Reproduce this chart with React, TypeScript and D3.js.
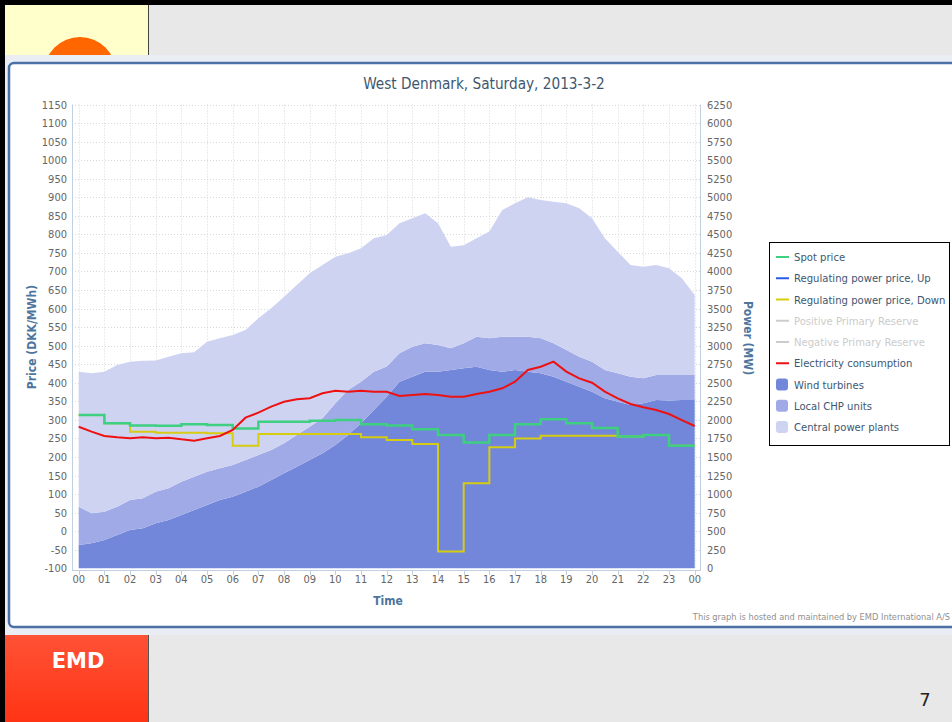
import React, { useEffect, useRef } from 'react';
import * as d3 from 'd3';

// half-hourly sample times, 00:00 .. 24:00
const hours = d3.range(0, 24.01, 0.5);

// production (MW), stacked: wind at the bottom
const windTurbines = [
  314, 337, 381, 449, 516, 539, 606, 651, 718, 786, 853, 920, 965, 1032, 1100, 1190,
  1280, 1369, 1460, 1550, 1662, 1796, 1954, 2133, 2313, 2515, 2582, 2650, 2650, 2672,
  2695, 2717, 2672, 2650, 2672, 2650, 2628, 2582, 2515, 2448, 2380, 2291, 2245, 2200,
  2224, 2268, 2260, 2268, 2268
];
const localChp = [
  516, 404, 382, 381, 404, 404, 426, 427, 449, 449, 449, 428, 427, 428, 427, 404,
  405, 427, 448, 472, 562, 607, 561, 517, 407, 382, 405, 382, 359, 293,
  337, 404, 428, 471, 449, 471, 472, 450, 427, 404, 405, 381, 383, 382,
  336, 337, 345, 337, 337
];
const centralPlants = [
  1820, 1887, 1887, 1910, 1865, 1855, 1768, 1774, 1730, 1676, 1752, 1752, 1752, 1752, 1842, 1910,
  1975, 2022, 2068, 2066, 1976, 1842, 1798, 1797, 1770, 1753, 1730, 1752, 1641, 1369,
  1322, 1326, 1437, 1708, 1798, 1879, 1864, 1909, 1977, 2000, 1932, 1775, 1639, 1506,
  1505, 1483, 1438, 1303, 1078
];
const consumption = [
  1908, 1841, 1783, 1765, 1752, 1765, 1752, 1760, 1738, 1720, 1752, 1783, 1864, 2030, 2097, 2178,
  2245, 2277, 2291, 2358, 2394, 2380, 2394, 2380, 2380, 2322, 2335, 2349, 2335, 2313,
  2313, 2349, 2380, 2426, 2515, 2672, 2717, 2785, 2650, 2560, 2501, 2380, 2291, 2214,
  2170, 2133, 2079, 1998, 1918
];

// prices (DKK/MWh), one value per hour 00..23
const spotPrice = [313, 291, 285, 284, 288, 286, 277, 295, 295, 298, 300, 288, 285, 275, 259, 239, 259, 288, 302, 291, 278, 255, 259, 230];
const regPriceDown = [313, 291, 268, 265, 265, 264, 230, 262, 262, 262, 262, 253, 246, 235, -55, 129, 226, 250, 257, 257, 257, 255, 259, 230];

const hourLabels = ['00', '01', '02', '03', '04', '05', '06', '07', '08', '09', '10', '11', '12', '13', '14', '15', '16', '17', '18', '19', '20', '21', '22', '23', '00'];
const legendNames = [
  'Spot price', 'Regulating power price, Up', 'Regulating power price, Down',
  'Positive Primary Reserve', 'Negative Primary Reserve', 'Electricity consumption',
  'Wind turbines', 'Local CHP units', 'Central power plants'
];

const FONT = '"DejaVu Sans Condensed", "DejaVu Sans", sans-serif';

const App = () => {
  const svgRef = useRef(null);

  useEffect(() => {
    const svg = d3.select(svgRef.current);
    svg.selectAll('*').remove();

    const W = 952, H = 722;
    svg.attr('width', W).attr('height', H);

    // ---- slide background ----
    svg.append('rect').attr('width', W).attr('height', H).attr('fill', '#e8e8e8');
    svg.append('rect').attr('x', 5).attr('y', 5).attr('width', 143).attr('height', 50).attr('fill', '#ffffcc');
    svg.append('circle').attr('cx', 80).attr('cy', 73).attr('r', 36).attr('fill', '#ff6600');
    svg.append('line').attr('x1', 148.5).attr('x2', 148.5).attr('y1', 5).attr('y2', 55).attr('stroke', '#444');
    svg.append('rect').attr('width', W).attr('height', 5).attr('fill', '#000');
    svg.append('rect').attr('width', 5).attr('height', H).attr('fill', '#000');

    const defs = svg.append('defs');
    const grad = defs.append('linearGradient').attr('id', 'emdGrad').attr('x1', 0).attr('x2', 0).attr('y1', 0).attr('y2', 1);
    grad.append('stop').attr('offset', '0%').attr('stop-color', '#ff5236');
    grad.append('stop').attr('offset', '100%').attr('stop-color', '#ff3414');
    svg.append('rect').attr('x', 5).attr('y', 635).attr('width', 143).attr('height', 87).attr('fill', 'url(#emdGrad)');
    svg.append('line').attr('x1', 148.5).attr('x2', 148.5).attr('y1', 635).attr('y2', H).attr('stroke', '#555');
    svg.append('text').attr('x', 78).attr('y', 668).attr('text-anchor', 'middle')
      .attr('font-family', 'Verdana, "DejaVu Sans", sans-serif').attr('font-weight', 'bold')
      .attr('font-size', 21).attr('fill', '#fff').text('EMD');
    svg.append('text').attr('x', 925).attr('y', 706).attr('text-anchor', 'middle')
      .attr('font-family', '"DejaVu Sans", sans-serif').attr('font-size', 18).attr('fill', '#222').text('7');

    // ---- chart frame ----
    svg.append('rect').attr('x', 5).attr('y', 55).attr('width', W).attr('height', 580).attr('fill', '#eaedf4');
    svg.append('rect').attr('x', 9).attr('y', 63).attr('width', 960).attr('height', 564).attr('rx', 5)
      .attr('fill', '#fff').attr('stroke', '#4a70a6').attr('stroke-width', 2.5);

    svg.append('text').attr('x', 484).attr('y', 89).attr('text-anchor', 'middle')
      .attr('font-family', FONT).attr('font-size', 15.2).attr('fill', '#3e576f')
      .text('West Denmark, Saturday, 2013-3-2');

    // ---- scales ----
    const x = d3.scaleLinear().domain([0, 24]).range([78.7, 694.7]);
    const yL = d3.scaleLinear().domain([-100, 1150]).range([568.3, 104.5]);
    const yR = d3.scaleLinear().domain([0, 6250]).range([568.3, 104.5]);
    const leftTicks = d3.range(-100, 1151, 50);
    const rightTicks = d3.range(0, 6251, 250);
    const hourTicks = d3.range(0, 25, 1);

    // grid
    const grid = svg.append('g').attr('stroke', '#d8d8d8').attr('stroke-dasharray', '1,2').attr('stroke-width', 1);
    grid.selectAll('.h').data(leftTicks.slice(1)).enter().append('line')
      .attr('x1', 72).attr('x2', 700).attr('y1', d => Math.round(yL(d)) + 0.5).attr('y2', d => Math.round(yL(d)) + 0.5);
    grid.selectAll('.v').data(hourTicks).enter().append('line')
      .attr('x1', d => Math.round(x(d)) + 0.5).attr('x2', d => Math.round(x(d)) + 0.5).attr('y1', 104.5).attr('y2', 569);

    // stacked production areas
    const rows = hours.map((h, i) => ({ h, wind: windTurbines[i], chp: localChp[i], central: centralPlants[i] }));
    const stack = d3.stack().keys(['wind', 'chp', 'central'])(rows);
    const areaColors = { wind: '#7287d9', chp: '#a0aae6', central: '#cfd3f2' };
    const area = d3.area().x(d => x(d.data.h)).y0(d => yR(d[0])).y1(d => yR(d[1]));
    svg.append('g').selectAll('path').data(stack).enter().append('path')
      .attr('d', area).attr('fill', d => areaColors[d.key]);

    // price step lines
    const stepPts = arr => arr.map((v, i) => [i, v]).concat([[24, arr[arr.length - 1]]]);
    const step = d3.line().x(d => x(d[0])).y(d => yL(d[1])).curve(d3.curveStepAfter);
    svg.append('path').attr('d', step(stepPts(regPriceDown))).attr('fill', 'none')
      .attr('stroke', '#d6cc12').attr('stroke-width', 2);
    svg.append('path').attr('d', step(stepPts(spotPrice))).attr('fill', 'none')
      .attr('stroke', '#3fcf80').attr('stroke-width', 2.5);

    // consumption
    const line = d3.line().x((d, i) => x(hours[i])).y(d => yR(d)).curve(d3.curveLinear);
    svg.append('path').attr('d', line(consumption)).attr('fill', 'none')
      .attr('stroke', '#ee1111').attr('stroke-width', 2);

    // ---- axes ----
    const axisColor = '#c0d0e0';
    svg.append('line').attr('x1', 72.5).attr('x2', 72.5).attr('y1', 104.5).attr('y2', 571).attr('stroke', axisColor);
    svg.append('line').attr('x1', 700.5).attr('x2', 700.5).attr('y1', 104.5).attr('y2', 571).attr('stroke', axisColor);
    svg.append('line').attr('x1', 72).attr('x2', 701).attr('y1', 570.5).attr('y2', 570.5).attr('stroke', axisColor);

    svg.append('g').selectAll('line').data(hourTicks).enter().append('line')
      .attr('x1', d => Math.round(x(d)) + 0.5).attr('x2', d => Math.round(x(d)) + 0.5)
      .attr('y1', 570).attr('y2', 575).attr('stroke', axisColor);

    const labelStyle = sel => sel.attr('font-family', FONT).attr('font-size', 11).attr('fill', '#666');
    svg.append('g').selectAll('text').data(leftTicks).enter().append('text')
      .attr('x', 67).attr('y', d => yL(d) + 4).attr('text-anchor', 'end').call(labelStyle).text(d => d);
    svg.append('g').selectAll('text').data(rightTicks).enter().append('text')
      .attr('x', 707).attr('y', d => yR(d) + 4).attr('text-anchor', 'start').call(labelStyle).text(d => d);
    svg.append('g').selectAll('text').data(hourTicks).enter().append('text')
      .attr('x', d => x(d)).attr('y', 583).attr('text-anchor', 'middle').call(labelStyle).text((d, i) => hourLabels[i]);

    const titleStyle = sel => sel.attr('font-family', FONT).attr('font-size', 12).attr('font-weight', 'bold').attr('fill', '#4d759e');
    svg.append('text').attr('transform', 'translate(36,337) rotate(-90)').attr('text-anchor', 'middle')
      .call(titleStyle).text('Price (DKK/MWh)');
    svg.append('text').attr('transform', 'translate(744,338) rotate(90)').attr('text-anchor', 'middle')
      .call(titleStyle).text('Power (MW)');
    svg.append('text').attr('x', 388).attr('y', 605).attr('text-anchor', 'middle')
      .call(titleStyle).text('Time');

    svg.append('text').attr('x', 950).attr('y', 620).attr('text-anchor', 'end')
      .attr('font-family', FONT).attr('font-size', 9.2).attr('fill', '#909090')
      .text('This graph is hosted and maintained by EMD International A/S');

    // ---- legend ----
    const symColors = ['#3fcf80', '#2a5be8', '#d6cc12', '#cccccc', '#cccccc', '#ee1111', '#7287d9', '#a0aae6', '#cfd3f2'];
    const hidden = [false, false, false, true, true, false, false, false, false];
    const lg = svg.append('g');
    lg.append('rect').attr('x', 769.5).attr('y', 242.5).attr('width', 180).attr('height', 203)
      .attr('fill', '#fff').attr('stroke', '#000');
    legendNames.forEach((name, i) => {
      const cy = 257 + i * 21.25;
      if (i < 6) {
        lg.append('line').attr('x1', 776).attr('x2', 789).attr('y1', cy).attr('y2', cy)
          .attr('stroke', symColors[i]).attr('stroke-width', 2);
      } else {
        lg.append('rect').attr('x', 776).attr('y', cy - 6).attr('width', 12).attr('height', 12)
          .attr('rx', 3).attr('fill', symColors[i]);
      }
      lg.append('text').attr('x', 794).attr('y', cy + 4)
        .attr('font-family', FONT).attr('font-size', 11.2)
        .attr('fill', hidden[i] ? '#cccccc' : '#3e576f').text(name);
    });
  }, []);

  return (
    <div style={{ position: 'absolute', left: 0, top: 0 }}>
      <svg ref={svgRef} style={{ display: 'block' }}></svg>
    </div>
  );
};

export default App;
